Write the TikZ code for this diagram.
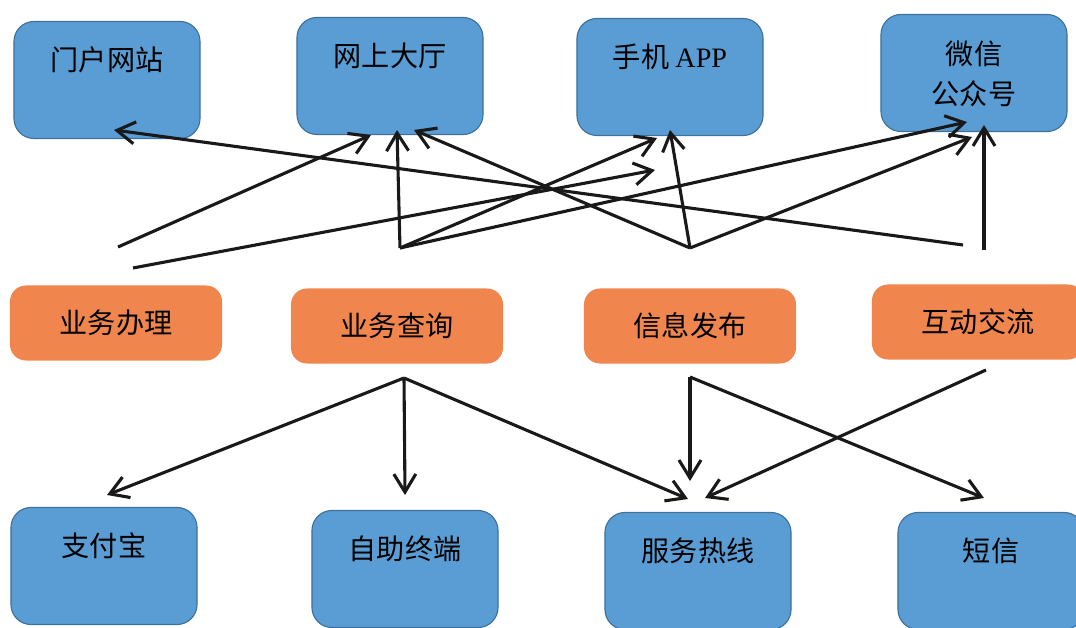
\documentclass[tikz,border=0pt]{standalone}
\usepackage{fontspec}
\setmainfont{Liberation Serif}
\newfontfamily\cjk{Noto Sans CJK SC}
\usetikzlibrary{arrows.meta}
\definecolor{chanfill}{RGB}{90,157,212}
\definecolor{chanline}{RGB}{62,112,156}
\definecolor{servfill}{RGB}{240,134,78}

\begin{document}
\begin{tikzpicture}[x=0.025cm, y=-0.025cm,
        chan/.style={draw=chanline, fill=chanfill, rounded corners=0.5cm, line width=0.8pt,
            minimum width=4.65cm, inner sep=0pt, text height=1.225cm, text depth=1.7cm,
            align=center, font=\cjk\fontsize{20}{28.5}\selectfont},
        serv/.style={fill=servfill, rounded corners=0.4cm, minimum width=5.3cm,
            minimum height=1.875cm, inner sep=0pt, font=\cjk\fontsize{20}{24}\selectfont},
        arr/.style={-{Straight Barb[length=4.5mm,width=5.5mm]}, line width=2.2pt, draw=black!90}]
                \useasboundingbox (0,0) rectangle (1076,628);
                % channels on top
                \node[chan] (t1) at (107,80) {门户网站};
                \node[chan] (t2) at (390,76) {网上大厅};
                \node[chan] (t3) at (670,77) {手机 {\rmfamily APP}};
                \node[chan, text height=2.25cm, text depth=0.675cm] (t4) at (974,73) {微信\\公众号};
                % services
                \node[serv] (s1) at (116,323) {业务办理};
                \node[serv] (s2) at (397,326) {业务查询};
                \node[serv] (s3) at (690,326) {信息发布};
                \node[serv] (s4) at (978,322) {互动交流};
                % channels below
                \node[chan] (b1) at (104,566) {支付宝};
                \node[chan] (b2) at (405,569) {自助终端};
                \node[chan] (b3) at (698,571) {服务热线};
                \node[chan] (b4) at (991,571) {短信};
                % arrow ends
                \coordinate (s1u1) at (118,247);
                \coordinate (s1u2) at (133,268);
                \coordinate (s2u) at (400,248);
                \coordinate (s3u) at (690,248);
                \coordinate (s4u1) at (963,245);
                \coordinate (s4u2) at (984,250);
                \coordinate (s2d) at (404,378);
                \coordinate (s3d) at (690,377);
                \coordinate (s4d) at (986,370);
                \coordinate (t1in) at (114,130);
                \coordinate (t2in1) at (371,135);
                \coordinate (t2in2) at (397,130);
                \coordinate (t2in3) at (414,130);
                \coordinate (t3in1) at (655,170);
                \coordinate (t3in2) at (657,138);
                \coordinate (t3in3) at (670,130);
                \coordinate (t4in1) at (967,122);
                \coordinate (t4in2) at (972,137);
                \coordinate (t4in3) at (984,125);
                \coordinate (b1in) at (107,495);
                \coordinate (b2in) at (405,495);
                \coordinate (b3in1) at (688,499);
                \coordinate (b3in2) at (690,481);
                \coordinate (b3in3) at (705,498);
                \coordinate (b4in) at (984,498);
                % upward
                \draw[arr] (s1u1) -- (t2in1);
                \draw[arr] (s1u2) -- (t3in1);
                \draw[arr] (s2u) -- (t2in2);
                \draw[arr] (s2u) -- (t3in2);
                \draw[arr] (s2u) -- (t4in1);
                \draw[arr] (s3u) -- (t2in3);
                \draw[arr] (s3u) -- (t3in3);
                \draw[arr] (s3u) -- (t4in2);
                \draw[arr] (s4u1) -- (t1in);
                \draw[arr] (s4u2) -- (t4in3);
                % downward
                \draw[arr] (s2d) -- (b1in);
                \draw[arr] (s2d) -- (b2in);
                \draw[arr] (s2d) -- (b3in1);
                \draw[arr] (s3d) -- (b3in2);
                \draw[arr] (s3d) -- (b4in);
                \draw[arr] (s4d) -- (b3in3);
            \end{tikzpicture}
\end{document}
